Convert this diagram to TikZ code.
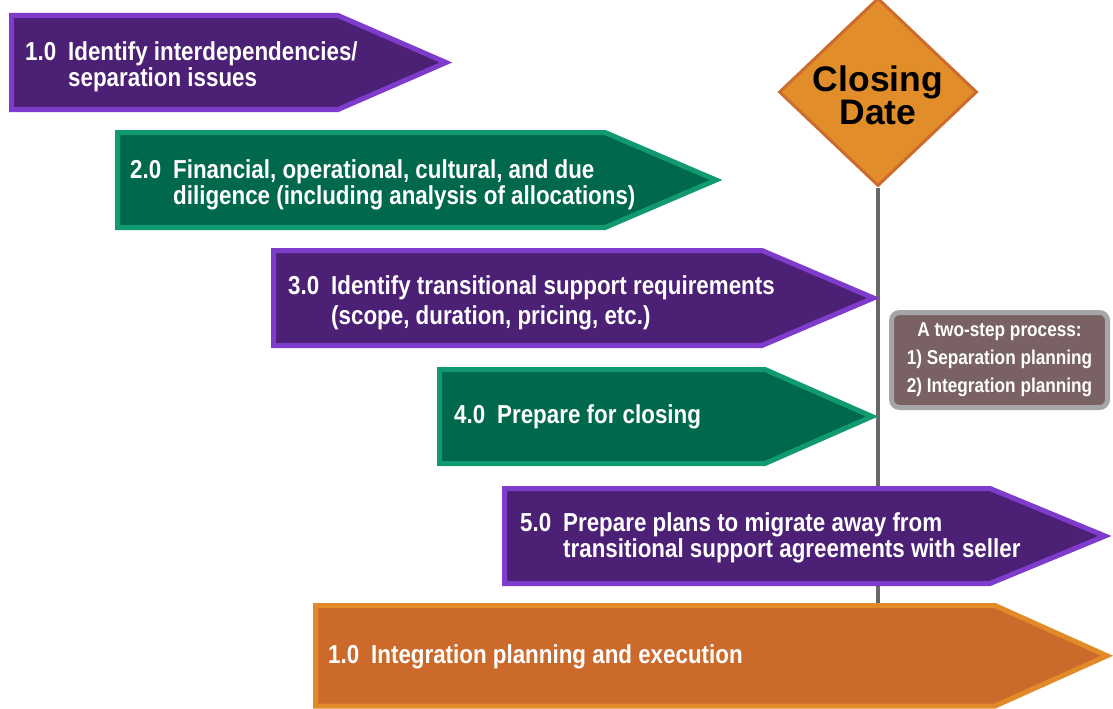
\documentclass[tikz,border=0pt]{standalone}
\usepackage{fontspec}
\setmainfont{Liberation Sans}
\newfontfamily\stepfont[FakeStretch=0.86]{Liberation Sans}
\usetikzlibrary{shapes.geometric,backgrounds}

\definecolor{purplefill}{HTML}{4B2075}
\definecolor{purpleedge}{HTML}{7F3BCB}
\definecolor{greenfill}{HTML}{00684C}
\definecolor{greenedge}{HTML}{119A72}
\definecolor{orangefill}{HTML}{CC6A2B}
\definecolor{orangeedge}{HTML}{E28A27}
\definecolor{signfill}{HTML}{E18E2A}
\definecolor{signedge}{HTML}{CD6B2C}
\definecolor{polegray}{HTML}{686868}
\definecolor{notefill}{HTML}{7A6163}
\definecolor{noteedge}{HTML}{A6A6A6}

% pointed banner: style, left, top, bottom, start of point, tip
\newcommand\chevron[6]{%
  \path[#1] (#2,#3) -- (#5,#3) -- (#6,{(#3+#4)/2}) -- (#5,#4) -- (#2,#4) -- cycle;}
\newcommand\stepnum[1]{\makebox[43pt][l]{#1}}

\tikzset{
  bannershape/.style={line width=5pt, line join=miter},
  purplestep/.style={bannershape, fill=purplefill, draw=purpleedge},
  greenstep/.style={bannershape, fill=greenfill, draw=greenedge},
  orangestep/.style={bannershape, fill=orangefill, draw=orangeedge},
  steptext/.style={anchor=base west, inner sep=0pt, text=white,
    font=\stepfont\bfseries\fontsize{26}{26.5}\selectfont},
  sign/.style={diamond, draw=signedge, fill=signfill, line width=3pt,
    inner sep=0pt, minimum width=198pt, minimum height=188pt},
  signtext/.style={align=center, inner sep=0pt, text=black,
    font=\bfseries\fontsize{35.5}{30}\selectfont},
  note/.style={rounded corners=8pt, draw=noteedge, fill=notefill, line width=5pt,
    minimum width=216pt, minimum height=95pt, align=center, inner sep=0pt,
    text=white, font=\stepfont\bfseries\fontsize{20}{28}\selectfont},
  pole/.style={draw=polegray, line width=4pt}
}

\begin{document}
\begin{tikzpicture}[x=1pt, y=-1pt]
  \useasboundingbox (0,0) rectangle (1113,709);

  % banners
  \chevron{purplestep}{11.5}{15.5}{109.5}{338}{446}
  \chevron{greenstep}{117.5}{132.5}{227.5}{605}{716}
  \chevron{purplestep}{273.5}{250.5}{345.5}{762}{873.5}
  \chevron{greenstep}{439.5}{369.5}{463.5}{765}{872}
  \chevron{purplestep}{504.5}{488.5}{583.5}{990}{1105}
  \chevron{orangestep}{315.5}{605.5}{706}{995}{1107}

  % signpost: diamond sign on a pole that runs behind the banners
  \node[sign] (datesign) at (878,92) {};
  \node[signtext] (datelabel) at (878,95) {Closing\\Date};
  \coordinate (polefoot) at (878,605);
  \begin{pgfonlayer}{background}
    \draw[pole] (datesign.south) -- (polefoot);
  \end{pgfonlayer}

  % banner texts
  \node[steptext] (s1) at (25,60) {\begin{tabular}[t]{@{}l@{}l@{}}
    \stepnum{1.0}&Identify interdependencies/\\&separation issues\end{tabular}};
  \node[steptext] (s2) at (130,178) {\begin{tabular}[t]{@{}l@{}l@{}}
    \stepnum{2.0}&Financial, operational, cultural, and due\\
    &diligence (including analysis of allocations)\end{tabular}};
  \node[steptext] (s3) at (288,294) {\begin{tabular}[t]{@{}l@{}l@{}}
    \stepnum{3.0}&Identify transitional support requirements\\[4pt]
    &(scope, duration, pricing, etc.)\end{tabular}};
  \node[steptext] (s4) at (454,423) {\stepnum{4.0}Prepare for closing};
  \node[steptext] (s5) at (520,531) {\begin{tabular}[t]{@{}l@{}l@{}}
    \stepnum{5.0}&Prepare plans to migrate away from\\
    &transitional support agreements with seller\end{tabular}};
  \node[steptext] (s6) at (328,663) {\stepnum{1.0}Integration planning and execution};

  % side note
  \node[note] (twostep) at (999.5,360)
    {A two-step process:\\1) Separation planning\\2) Integration planning};
\end{tikzpicture}
\end{document}
